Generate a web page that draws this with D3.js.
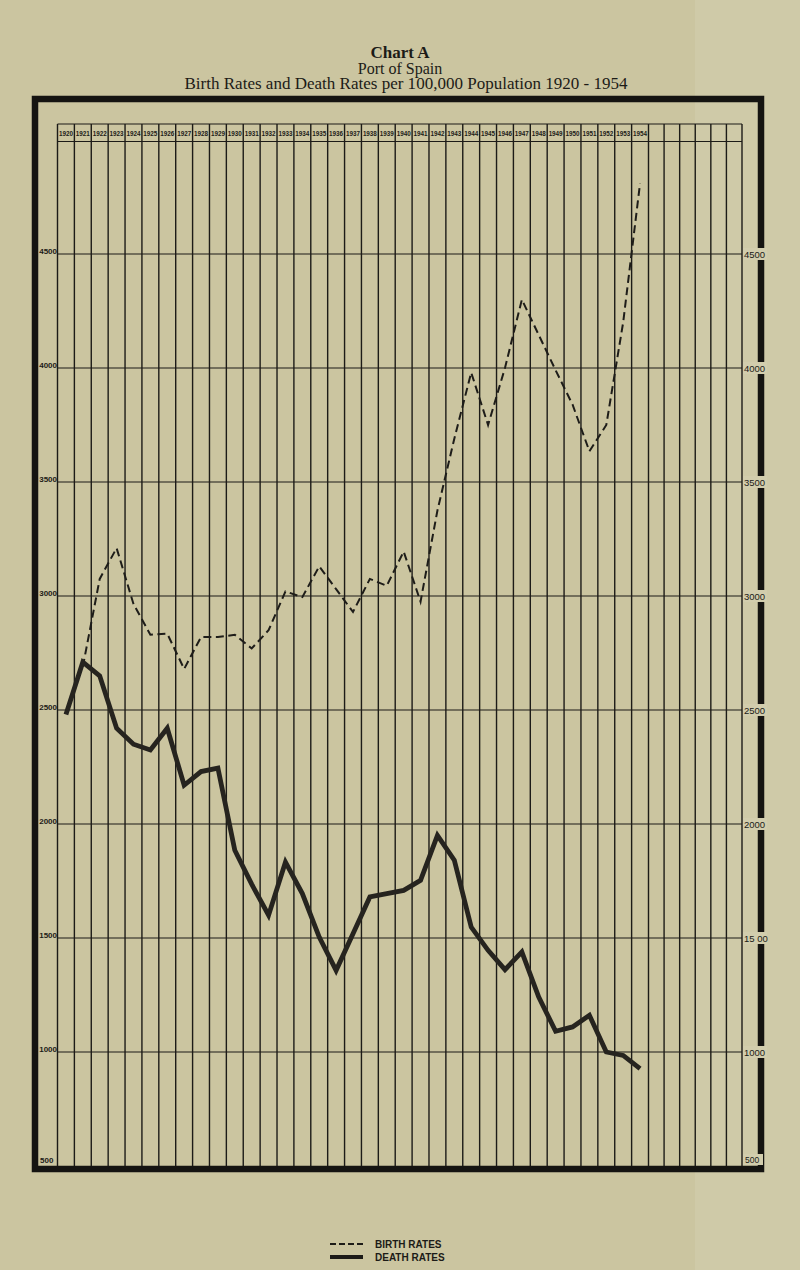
<!DOCTYPE html>
<html>
<head>
<meta charset="utf-8">
<script src="https://cdn.jsdelivr.net/npm/d3@7"></script>
<style>
  html, body { margin: 0; padding: 0; background: #cbc5a0; }
  svg { display: block; }
</style>
</head>
<body>
<svg id="chart" width="800" height="1270"></svg>
<script>
// ---------- DATA ----------
const years = [1920,1921,1922,1923,1924,1925,1926,1927,1928,1929,
               1930,1931,1932,1933,1934,1935,1936,1937,1938,1939,
               1940,1941,1942,1943,1944,1945,1946,1947,1948,1949,
               1950,1951,1952,1953,1954];
const blankColumns = ["b1","b2","b3","b4","b5","b6"];

const birthRates = [null,2690,3075,3210,2965,2830,2835,2680,2820,2820,
                    2830,2770,2850,3020,2995,3130,3030,2930,3075,3045,
                    3195,2975,3375,3690,3980,3750,4000,4300,4145,3990,
                    3840,3635,3750,4200,4810];
const deathRates = [2480,2710,2650,2420,2350,2325,2420,2170,2230,2245,
                    1885,1736,1600,1833,1695,1504,1358,1519,1680,1695,
                    1709,1753,1950,1841,1548,1446,1361,1439,1241,1091,
                    1110,1161,1000,985,927];

const yTicks = [1000,1500,2000,2500,3000,3500,4000,4500];
const leftTickLabels  = ["1000","1500","2000","2500","3000","3500","4000","4500"];
const rightTickLabels = ["1000","15 00","2000","2500","3000","3500","4000","4500"];
const bottomLabel = "500";

const titleLines = ["Chart A", "Port of Spain", "Birth Rates and Death Rates per 100,000 Population 1920 - 1954"];
const legendLabels = ["BIRTH RATES", "DEATH RATES"];

// ---------- SCALES ----------
const svg = d3.select("#chart");
const ink = "#1c1b17";
const paper = "#cbc5a0";

const gridLeft = 57.5, yearRight = 648.5, gridRight = 742;
const headerTop = 124, headerBottom = 141.5, gridBottom = 1166;

const x = d3.scaleBand().domain(years).range([gridLeft, yearRight]).paddingInner(0).paddingOuter(0);
const xBlank = d3.scaleBand().domain(blankColumns).range([yearRight, gridRight]);
const y = d3.scaleLinear().domain([500, 5000]).range([gridBottom, 140]);

// ---------- BACKGROUND ----------
svg.append("rect").attr("width", 800).attr("height", 1270).attr("fill", paper);
svg.append("rect").attr("x", 695).attr("y", 0).attr("width", 105).attr("height", 1270)
   .attr("fill", "#d4cfb0").attr("opacity", 0.5);

// ---------- TITLE ----------
svg.append("text").attr("x", 400).attr("y", 58).attr("text-anchor", "middle")
   .attr("font-family", "Liberation Serif, serif").attr("font-weight", "bold")
   .attr("font-size", 17).attr("fill", ink).text(titleLines[0]);
svg.append("text").attr("x", 400).attr("y", 74).attr("text-anchor", "middle")
   .attr("font-family", "Liberation Serif, serif").attr("font-size", 16)
   .attr("fill", ink).text(titleLines[1]);
svg.append("text").attr("x", 406).attr("y", 89).attr("text-anchor", "middle")
   .attr("font-family", "Liberation Serif, serif").attr("font-size", 16)
   .attr("textLength", 443).attr("lengthAdjust", "spacingAndGlyphs")
   .attr("fill", ink).text(titleLines[2]);

// ---------- GRID ----------
const g = svg.append("g");

g.append("line").attr("x1", gridLeft).attr("x2", gridRight).attr("y1", headerTop).attr("y2", headerTop)
  .attr("stroke", ink).attr("stroke-width", 1.2);
g.append("line").attr("x1", gridLeft).attr("x2", gridRight).attr("y1", headerBottom).attr("y2", headerBottom)
  .attr("stroke", ink).attr("stroke-width", 1.2);

const colEdges = years.map(d => x(d)).concat(blankColumns.map(d => xBlank(d))).concat([gridRight]);
g.selectAll("line.v").data(colEdges).join("line").attr("class", "v")
  .attr("x1", d => d).attr("x2", d => d)
  .attr("y1", headerTop).attr("y2", gridBottom)
  .attr("stroke", ink).attr("stroke-width", 1.4);

g.selectAll("line.h").data(yTicks).join("line").attr("class", "h")
  .attr("x1", gridLeft).attr("x2", gridRight)
  .attr("y1", d => y(d)).attr("y2", d => y(d))
  .attr("stroke", ink).attr("stroke-width", 1.1);

g.selectAll("text.yr").data(years).join("text").attr("class", "yr")
  .attr("x", d => x(d) + x.bandwidth() / 2).attr("y", headerTop + 11.5)
  .attr("text-anchor", "middle")
  .attr("font-family", "Liberation Sans, Arial, sans-serif").attr("font-weight", "bold")
  .attr("font-size", 7).attr("textLength", 14).attr("lengthAdjust", "spacingAndGlyphs")
  .attr("fill", ink).text(d => d);

// ---------- FRAME ----------
svg.append("rect").attr("x", 35).attr("y", 99).attr("width", 726).attr("height", 1070)
   .attr("fill", "none").attr("stroke", "#151411").attr("stroke-width", 6.5);

// ---------- AXIS LABELS ----------
g.selectAll("text.lt").data(yTicks).join("text").attr("class", "lt")
  .attr("x", 57).attr("y", d => y(d) - 0.5).attr("text-anchor", "end")
  .attr("font-family", "Liberation Sans, Arial, sans-serif").attr("font-weight", "bold")
  .attr("font-size", 8).attr("fill", ink)
  .text((d, i) => leftTickLabels[i]);
svg.append("text").attr("x", 40).attr("y", gridBottom - 3)
  .attr("font-family", "Liberation Sans, Arial, sans-serif").attr("font-weight", "bold")
  .attr("font-size", 8).attr("fill", ink).text(bottomLabel);

const rt = svg.append("g");
yTicks.forEach((d, i) => {
  rt.append("rect").attr("x", 743).attr("y", y(d) - 6).attr("width", 24).attr("height", 12).attr("fill", "#d2cdad");
  rt.append("text").attr("x", 744).attr("y", y(d) + 3.5)
    .attr("font-family", "Liberation Sans, Arial, sans-serif")
    .attr("font-size", 9.5).attr("fill", ink).text(rightTickLabels[i]);
});
rt.append("rect").attr("x", 743).attr("y", gridBottom - 12).attr("width", 20).attr("height", 11).attr("fill", "#d2cdad");
rt.append("text").attr("x", 745).attr("y", gridBottom - 3)
  .attr("font-family", "Liberation Sans, Arial, sans-serif")
  .attr("font-size", 8.5).attr("fill", ink).text(bottomLabel);

// ---------- SERIES ----------
const cx = (d, i) => x(years[i]) + x.bandwidth() / 2;
const line = d3.line().defined(d => d != null).x(cx).y(d => y(d));

svg.append("path").datum(birthRates).attr("d", line)
  .attr("fill", "none").attr("stroke", "#1e1d19").attr("stroke-width", 2)
  .attr("stroke-dasharray", "8,4.5").attr("stroke-linejoin", "miter");

svg.append("path").datum(deathRates).attr("d", line)
  .attr("fill", "none").attr("stroke", "#26241f").attr("stroke-width", 4.8)
  .attr("stroke-linejoin", "miter").attr("stroke-miterlimit", 4);

// ---------- LEGEND ----------
const lg = svg.append("g");
lg.append("line").attr("x1", 330).attr("x2", 363).attr("y1", 1244).attr("y2", 1244)
  .attr("stroke", ink).attr("stroke-width", 1.8).attr("stroke-dasharray", "6,3");
lg.append("line").attr("x1", 330).attr("x2", 363).attr("y1", 1257).attr("y2", 1257)
  .attr("stroke", ink).attr("stroke-width", 4);
lg.selectAll("text").data(legendLabels).join("text")
  .attr("x", 375).attr("y", (d, i) => 1248 + i * 13)
  .attr("font-family", "Liberation Sans, Arial, sans-serif").attr("font-weight", "bold")
  .attr("font-size", 10).attr("fill", ink).text(d => d);
</script>
</body>
</html>
